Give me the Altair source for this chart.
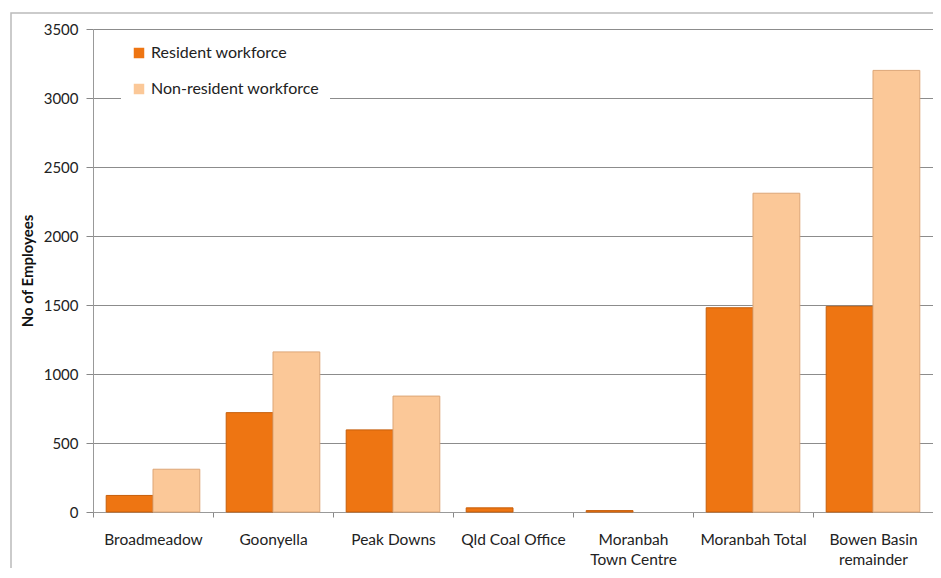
import altair as alt
import pandas as pd

categories = ["Broadmeadow", "Goonyella", "Peak Downs", "Qld Coal Office",
              "Moranbah|Town Centre", "Moranbah Total", "Bowen Basin|remainder"]
resident = [120, 720, 595, 30, 10, 1480, 1490]
non_resident = [310, 1160, 840, 0, 0, 2310, 3200]
series = ["Resident workforce", "Non-resident workforce"]
colors = ["#EE7512", "#FBC898"]
strokes = ["#C65E0A", "#DDA676"]
y_ticks = [0, 500, 1000, 1500, 2000, 2500, 3000, 3500]

rows = []
for c, r, n in zip(categories, resident, non_resident):
    rows.append({"category": c, "series": series[0], "value": r})
    rows.append({"category": c, "series": series[1], "value": n})
df = pd.DataFrame(rows)
df = df[df["value"] > 0]

FONT = "Lato"

bars = alt.Chart(df).mark_bar(strokeWidth=1).encode(
    x=alt.X("category:N", sort=categories, title=None,
            scale=alt.Scale(paddingInner=0.22, paddingOuter=0.11),
            axis=alt.Axis(labelExpr="split(datum.value, '|')", labelAngle=0,
                          labelFontSize=15.5, labelFont=FONT, labelColor="#222222",
                          labelPadding=15, labelLineHeight=20,
                          tickOffset=-60, labelOffset=60, tickSize=5,
                          tickColor="#888888", domainColor="#999999",
                          grid=False)),
    xOffset=alt.XOffset("series:N", sort=series),
    y=alt.Y("value:Q", title="No of Employees",
            scale=alt.Scale(domain=[0, 3500], nice=False),
            axis=alt.Axis(values=y_ticks, format="d", labelFontSize=15,
                          labelFont=FONT, labelColor="#222222", labelPadding=8,
                          tickSize=7, tickColor="#888888", domainColor="#999999",
                          gridColor="#8C8C8C", gridWidth=1,
                          titleFont=FONT, titleFontSize=15, titleFontWeight="bold",
                          titleColor="#111111", titlePadding=8)),
    color=alt.Color("series:N", sort=series,
                    scale=alt.Scale(domain=series, range=colors),
                    legend=alt.Legend(title=None, orient="none", legendX=28, legendY=6,
                                      fillColor="white", padding=10,
                                      symbolType="square", symbolSize=110,
                                      symbolStrokeWidth=0, labelLimit=400,
                                      labelFont=FONT, labelFontSize=16,
                                      labelColor="#222222", rowPadding=20,
                                      labelOffset=4)),
    stroke=alt.Stroke("series:N", sort=series,
                      scale=alt.Scale(domain=series, range=strokes), legend=None),
)

frame = alt.Chart(pd.DataFrame({"a": [0]})).mark_rect(
    fill=None, stroke="#BBBBBB", strokeWidth=1.5
).encode(
    x=alt.value(-82), x2=alt.value(900), y=alt.value(-16), y2=alt.value(600)
)

chart = alt.layer(frame, bars).properties(
    width=840, height=483,
    autosize=alt.AutoSizeParams(type="none"),
    padding={"left": 85, "top": 21, "right": 0, "bottom": 56},
).configure_view(stroke=None).configure(background="white")

chart.save("out.html", embed_options={"renderer": "svg", "actions": False})
